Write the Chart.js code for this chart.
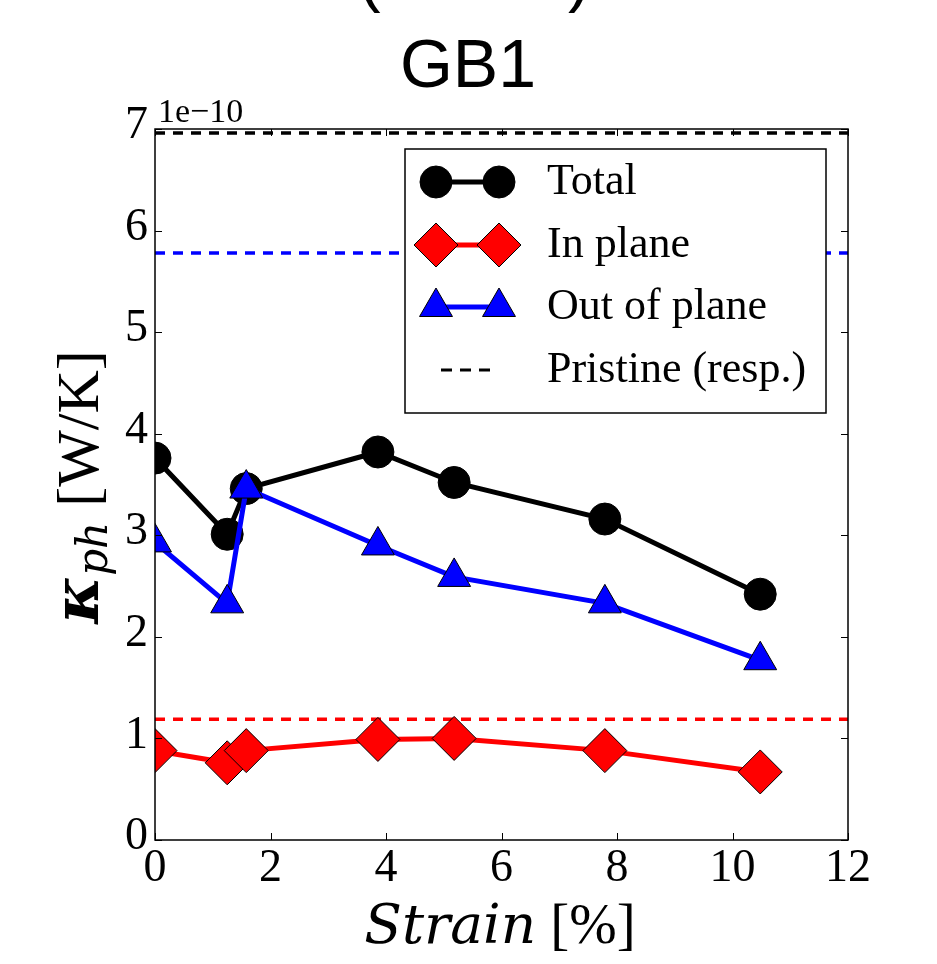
<!DOCTYPE html>
<html>
<head>
<meta charset="utf-8">
<script src="https://cdn.jsdelivr.net/npm/chart.js@4/dist/chart.umd.min.js"></script>
<style>
  body { margin: 0; background: #fff; }
  canvas { display: block; }
</style>
</head>
<body>
<canvas id="chart" width="937" height="964" style="width:937px;height:964px"></canvas>
<script>
// Values (kappa in units of 1e-10 W/K)
const strain = [0, 1.25, 1.58, 3.86, 5.18, 7.79, 10.48];
const kTotal = [3.76, 3.01, 3.46, 3.82, 3.52, 3.16, 2.42];
const kInPlane = [0.88, 0.76, 0.88, 0.99, 1.0, 0.88, 0.67];
const kOutOfPlane = [2.93, 2.33, 3.46, 2.9, 2.59, 2.33, 1.77];

// pristine reference levels: total, in plane, out of plane
const pristineNames = ['Total', 'In plane', 'Out of plane'];
const pristineValues = [6.96, 1.19, 5.78];
const pristineColors = ['#000000', '#ff0000', '#0000ff'];

const xTicks = [0, 2, 4, 6, 8, 10, 12];
const yTicks = [0, 1, 2, 3, 4, 5, 6, 7];

const serif = '"Liberation Serif", "Times New Roman", serif';
const mathSerif = '"DejaVu Serif", serif';

function points(xs, ys) {
  return xs.map((x, i) => ({ x: x, y: ys[i] }));
}

const pristineSets = pristineValues.map((v, i) => ({
  label: 'Pristine ' + pristineNames[i],
  data: [{ x: xTicks[0], y: v }, { x: xTicks[xTicks.length - 1], y: v }],
  borderColor: pristineColors[i],
  borderWidth: 3.5,
  borderDash: [10, 8],
  pointRadius: 0,
  order: 5,
  clip: 0
}));

// matplotlib-like frame, inward ticks, legend and text
const decorations = {
  id: 'decorations',
  afterDatasetsDraw(chart) {
    const ctx = chart.ctx;
    const a = chart.chartArea;
    const xs = chart.scales.x, ys = chart.scales.y;
    ctx.save();
    ctx.strokeStyle = '#000';
    ctx.lineWidth = 1.5;
    ctx.strokeRect(a.left, a.top, a.right - a.left, a.bottom - a.top);
    ctx.lineWidth = 1;
    ctx.beginPath();
    xTicks.forEach(t => {
      const px = Math.round(xs.getPixelForValue(t)) + 0.5;
      ctx.moveTo(px, a.bottom); ctx.lineTo(px, a.bottom - 7);
      ctx.moveTo(px, a.top); ctx.lineTo(px, a.top + 7);
    });
    yTicks.forEach(t => {
      const py = Math.round(ys.getPixelForValue(t)) + 0.5;
      ctx.moveTo(a.left, py); ctx.lineTo(a.left + 7, py);
      ctx.moveTo(a.right, py); ctx.lineTo(a.right - 7, py);
    });
    ctx.stroke();

    // legend box
    const lx = 405, ly = 149, lw = 421, lh = 264;
    ctx.fillStyle = '#fff';
    ctx.fillRect(lx, ly, lw, lh);
    ctx.lineWidth = 1.5;
    ctx.strokeRect(lx, ly, lw, lh);
    const rows = [182, 245, 307, 370];
    const sets = chart.data.datasets;
    [sets[0], sets[1], sets[2]].forEach((ds, i) => {
      const y = rows[i];
      ctx.strokeStyle = ds.borderColor;
      ctx.lineWidth = ds.borderWidth;
      ctx.beginPath();
      ctx.moveTo(436, y); ctx.lineTo(499, y);
      ctx.stroke();
      [436, 499].forEach(px => {
        ctx.fillStyle = ds.pointBackgroundColor;
        ctx.strokeStyle = ds.pointBorderColor;
        ctx.lineWidth = 1;
        ctx.beginPath();
        Chart.helpers.drawPoint(ctx, { pointStyle: ds.pointStyle, radius: ds.pointRadius, rotation: 0, borderWidth: 1 }, px, y);
      });
    });
    ctx.strokeStyle = '#000';
    ctx.lineWidth = 3;
    ctx.setLineDash([11, 8]);
    ctx.beginPath();
    ctx.moveTo(441, rows[3]); ctx.lineTo(490, rows[3]);
    ctx.stroke();
    ctx.setLineDash([]);
    ctx.fillStyle = '#000';
    ctx.font = '44px ' + serif;
    ctx.textAlign = 'left';
    ctx.textBaseline = 'middle';
    ['Total', 'In plane', 'Out of plane', 'Pristine (resp.)'].forEach((t, i) => {
      ctx.fillText(t, 547, rows[i]);
    });
    ctx.restore();
  },
  afterDraw(chart) {
    const ctx = chart.ctx;
    ctx.save();
    ctx.fillStyle = '#000';
    ctx.textBaseline = 'alphabetic';

    // clipped panel heading and title
    ctx.font = '68px "Liberation Sans", Arial, sans-serif';
    ctx.textAlign = 'left';
    ctx.fillText('(', 358, -1);
    ctx.fillText(')', 568, -1);
    ctx.textAlign = 'center';
    ctx.fillText('GB1', 468, 87);

    // offset text
    ctx.textAlign = 'left';
    ctx.font = '34px ' + serif;
    ctx.fillText('1e\u221210', 158, 122);

    // x axis title
    const f1 = 'italic 55px ' + mathSerif, f2 = '57px ' + serif;
    ctx.font = f1;
    const w1 = ctx.measureText('Strain').width;
    ctx.font = f2;
    const w2 = ctx.measureText(' [%]').width;
    const x0 = 500 - (w1 + w2) / 2;
    ctx.font = f1;
    ctx.fillText('Strain', x0, 943);
    ctx.font = f2;
    ctx.fillText(' [%]', x0 + w1, 943);

    // y axis title, rotated
    ctx.translate(98, 487);
    ctx.rotate(-Math.PI / 2);
    const fk = 'italic bold 64px ' + mathSerif, fs = 'italic 42px ' + mathSerif, fu = '60px ' + serif;
    ctx.font = fk; const wk = ctx.measureText('\u03ba').width;
    ctx.font = fs; const ws = ctx.measureText('ph').width;
    ctx.font = fu; const wu = ctx.measureText(' [W/K]').width;
    const s = -(wk + ws + wu) / 2;
    ctx.font = fk; ctx.fillText('\u03ba', s, 0);
    ctx.font = fs; ctx.fillText('ph', s + wk, 9);
    ctx.font = fu; ctx.fillText(' [W/K]', s + wk + ws, 0);
    ctx.restore();
  }
};

new Chart(document.getElementById('chart'), {
  type: 'line',
  data: {
    datasets: [
      {
        label: 'Total',
        data: points(strain, kTotal),
        borderColor: '#000000',
        borderWidth: 5,
        pointStyle: 'circle',
        pointRadius: 16,
        pointBackgroundColor: '#000000',
        pointBorderColor: '#000000',
        pointBorderWidth: 1,
        order: 3,
        clip: 0
      },
      {
        label: 'In plane',
        data: points(strain, kInPlane),
        borderColor: '#ff0000',
        borderWidth: 5,
        pointStyle: 'rectRot',
        pointRadius: 22,
        pointBackgroundColor: '#ff0000',
        pointBorderColor: '#000000',
        pointBorderWidth: 1,
        order: 2,
        clip: 0
      },
      {
        label: 'Out of plane',
        data: points(strain, kOutOfPlane),
        borderColor: '#0000ff',
        borderWidth: 5,
        pointStyle: 'triangle',
        pointRadius: 19,
        pointBackgroundColor: '#0000ff',
        pointBorderColor: '#000000',
        pointBorderWidth: 1,
        order: 1,
        clip: 0
      },
      ...pristineSets
    ]
  },
  options: {
    responsive: false,
    devicePixelRatio: 1,
    animation: false,
    layout: { padding: { left: 0, right: 89, top: 129, bottom: 0 } },
    plugins: {
      legend: { display: false },
      title: { display: false },
      tooltip: { enabled: false }
    },
    scales: {
      x: {
        type: 'linear',
        min: 0,
        max: 12,
        afterBuildTicks: scale => { scale.ticks = xTicks.map(v => ({ value: v })); },
        afterFit: scale => { scale.height = 124; },
        grid: { display: false, drawTicks: false },
        border: { display: false },
        ticks: { color: '#000', padding: 1, font: { family: serif, size: 46 } }
      },
      y: {
        type: 'linear',
        min: 0,
        max: 7,
        afterBuildTicks: scale => { scale.ticks = yTicks.map(v => ({ value: v })); },
        afterFit: scale => { scale.width = 155; },
        grid: { display: false, drawTicks: false },
        border: { display: false },
        ticks: { color: '#000', padding: 7, labelOffset: -3, font: { family: serif, size: 46 } }
      }
    }
  },
  plugins: [decorations]
});
</script>
</body>
</html>
